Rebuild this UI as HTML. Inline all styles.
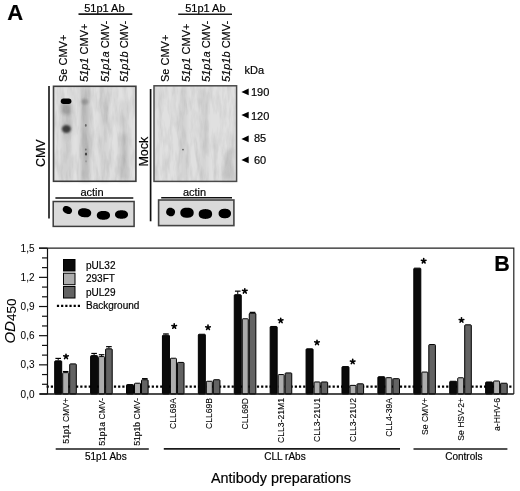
<!DOCTYPE html>
<html><head><meta charset="utf-8"><style>
html,body{margin:0;padding:0;background:#fff;}
body{width:520px;height:491px;position:relative;overflow:hidden;font-family:"Liberation Sans", sans-serif;}
text{stroke:#000;stroke-width:0.18px;paint-order:stroke;}
</style></head><body>
<svg width="520" height="491" viewBox="0 0 520 491" style="position:absolute;left:0;top:0;filter:blur(0.35px)" font-family='"Liberation Sans", sans-serif'><defs><filter id="b1" x="-50%" y="-50%" width="200%" height="200%"><feGaussianBlur stdDeviation="1.2"/></filter><filter id="b2" x="-50%" y="-50%" width="200%" height="200%"><feGaussianBlur stdDeviation="2"/></filter><filter id="b06" x="-50%" y="-50%" width="200%" height="200%"><feGaussianBlur stdDeviation="0.6"/></filter><filter id="nz" x="0" y="0" width="100%" height="100%"><feTurbulence type="fractalNoise" baseFrequency="0.22 0.045" numOctaves="3" seed="7"/><feColorMatrix type="matrix" values="0 0 0 0 0  0 0 0 0 0  0 0 0 0 0  0.8 0 0 0 -0.3"/><feGaussianBlur stdDeviation="0.7"/></filter></defs><rect width="520" height="491" fill="#fff"/><line x1="46.6" y1="386.7" x2="513" y2="386.7" stroke="#000" stroke-width="2.2" stroke-dasharray="2.2 2.006"/><line x1="58.20" y1="358.42" x2="58.20" y2="360.37" stroke="#000" stroke-width="1"/><line x1="55.40" y1="358.42" x2="61.00" y2="358.42" stroke="#000" stroke-width="1.2"/><rect x="54.70" y="360.87" width="7.00" height="33.13" fill="#0a0a0a" stroke="#000" stroke-width="1" rx="0.8"/><line x1="65.70" y1="371.55" x2="65.70" y2="372.13" stroke="#000" stroke-width="1"/><line x1="62.90" y1="371.55" x2="68.50" y2="371.55" stroke="#000" stroke-width="1.2"/><rect x="62.70" y="372.63" width="6.00" height="21.37" fill="#adadad" stroke="#000" stroke-width="1" rx="0.8"/><rect x="69.70" y="363.88" width="6.60" height="30.12" fill="#636363" stroke="#000" stroke-width="1" rx="0.8"/><path d="M66.00 356.60L66.00 354.20M66.00 356.60L68.28 355.86M66.00 356.60L67.41 358.54M66.00 356.60L64.59 358.54M66.00 356.60L63.72 355.86" stroke="#000" stroke-width="1.6" stroke-linecap="round" fill="none"/><text transform="translate(68.6,398) rotate(-90)" font-size="8.6" text-anchor="end" style="stroke-width:0.1px">51p1 CMV+</text><line x1="94.11" y1="353.47" x2="94.11" y2="355.12" stroke="#000" stroke-width="1"/><line x1="91.31" y1="353.47" x2="96.91" y2="353.47" stroke="#000" stroke-width="1.2"/><rect x="90.61" y="355.62" width="7.00" height="38.38" fill="#0a0a0a" stroke="#000" stroke-width="1" rx="0.8"/><line x1="101.61" y1="354.73" x2="101.61" y2="356.09" stroke="#000" stroke-width="1"/><line x1="98.81" y1="354.73" x2="104.41" y2="354.73" stroke="#000" stroke-width="1.2"/><rect x="98.61" y="356.59" width="6.00" height="37.41" fill="#adadad" stroke="#000" stroke-width="1" rx="0.8"/><line x1="108.91" y1="346.66" x2="108.91" y2="348.32" stroke="#000" stroke-width="1"/><line x1="106.11" y1="346.66" x2="111.71" y2="346.66" stroke="#000" stroke-width="1.2"/><rect x="105.61" y="348.82" width="6.60" height="45.18" fill="#636363" stroke="#000" stroke-width="1" rx="0.8"/><text transform="translate(104.5,398) rotate(-90)" font-size="8.6" text-anchor="end" style="stroke-width:0.1px">51p1a CMV-</text><rect x="126.52" y="384.59" width="7.00" height="9.41" fill="#0a0a0a" stroke="#000" stroke-width="1" rx="0.8"/><rect x="134.52" y="383.22" width="6.00" height="10.78" fill="#adadad" stroke="#000" stroke-width="1" rx="0.8"/><line x1="144.82" y1="378.64" x2="144.82" y2="379.23" stroke="#000" stroke-width="1"/><line x1="142.02" y1="378.64" x2="147.62" y2="378.64" stroke="#000" stroke-width="1.2"/><rect x="141.52" y="379.73" width="6.60" height="14.27" fill="#636363" stroke="#000" stroke-width="1" rx="0.8"/><text transform="translate(140.4,398) rotate(-90)" font-size="8.6" text-anchor="end" style="stroke-width:0.1px">51p1b CMV-</text><line x1="165.93" y1="333.93" x2="165.93" y2="334.71" stroke="#000" stroke-width="1"/><line x1="163.13" y1="333.93" x2="168.73" y2="333.93" stroke="#000" stroke-width="1.2"/><rect x="162.43" y="335.21" width="7.00" height="58.79" fill="#0a0a0a" stroke="#000" stroke-width="1" rx="0.8"/><rect x="170.43" y="358.24" width="6.00" height="35.76" fill="#adadad" stroke="#000" stroke-width="1" rx="0.8"/><rect x="177.43" y="362.42" width="6.60" height="31.58" fill="#636363" stroke="#000" stroke-width="1" rx="0.8"/><path d="M174.20 326.30L174.20 323.90M174.20 326.30L176.48 325.56M174.20 326.30L175.61 328.24M174.20 326.30L172.79 328.24M174.20 326.30L171.92 325.56" stroke="#000" stroke-width="1.6" stroke-linecap="round" fill="none"/><text transform="translate(176.3,398) rotate(-90)" font-size="8.6" text-anchor="end" style="stroke-width:0.1px">CLL69A</text><rect x="198.34" y="334.24" width="7.00" height="59.76" fill="#0a0a0a" stroke="#000" stroke-width="1" rx="0.8"/><rect x="206.34" y="381.28" width="6.00" height="12.72" fill="#adadad" stroke="#000" stroke-width="1" rx="0.8"/><rect x="213.34" y="379.73" width="6.60" height="14.27" fill="#636363" stroke="#000" stroke-width="1" rx="0.8"/><path d="M208.00 327.50L208.00 325.10M208.00 327.50L210.28 326.76M208.00 327.50L209.41 329.44M208.00 327.50L206.59 329.44M208.00 327.50L205.72 326.76" stroke="#000" stroke-width="1.6" stroke-linecap="round" fill="none"/><text transform="translate(212.2,398) rotate(-90)" font-size="8.6" text-anchor="end" style="stroke-width:0.1px">CLL69B</text><line x1="237.75" y1="291.16" x2="237.75" y2="294.18" stroke="#000" stroke-width="1"/><line x1="234.95" y1="291.16" x2="240.55" y2="291.16" stroke="#000" stroke-width="1.2"/><rect x="234.25" y="294.68" width="7.00" height="99.32" fill="#0a0a0a" stroke="#000" stroke-width="1" rx="0.8"/><rect x="242.25" y="318.78" width="6.00" height="75.22" fill="#adadad" stroke="#000" stroke-width="1" rx="0.8"/><line x1="252.55" y1="312.35" x2="252.55" y2="312.74" stroke="#000" stroke-width="1"/><line x1="249.75" y1="312.35" x2="255.35" y2="312.35" stroke="#000" stroke-width="1.2"/><rect x="249.25" y="313.24" width="6.60" height="80.76" fill="#636363" stroke="#000" stroke-width="1" rx="0.8"/><path d="M244.80 291.10L244.80 288.70M244.80 291.10L247.08 290.36M244.80 291.10L246.21 293.04M244.80 291.10L243.39 293.04M244.80 291.10L242.52 290.36" stroke="#000" stroke-width="1.6" stroke-linecap="round" fill="none"/><text transform="translate(248.1,398) rotate(-90)" font-size="8.6" text-anchor="end" style="stroke-width:0.1px">CLL69D</text><rect x="270.16" y="326.46" width="7.00" height="67.54" fill="#0a0a0a" stroke="#000" stroke-width="1" rx="0.8"/><rect x="278.16" y="374.57" width="6.00" height="19.43" fill="#adadad" stroke="#000" stroke-width="1" rx="0.8"/><rect x="285.16" y="372.92" width="6.60" height="21.08" fill="#636363" stroke="#000" stroke-width="1" rx="0.8"/><path d="M280.70 320.60L280.70 318.20M280.70 320.60L282.98 319.86M280.70 320.60L282.11 322.54M280.70 320.60L279.29 322.54M280.70 320.60L278.42 319.86" stroke="#000" stroke-width="1.6" stroke-linecap="round" fill="none"/><text transform="translate(284.1,398) rotate(-90)" font-size="8.6" text-anchor="end" style="stroke-width:0.1px">CLL3-21M1</text><rect x="306.07" y="348.82" width="7.00" height="45.18" fill="#0a0a0a" stroke="#000" stroke-width="1" rx="0.8"/><rect x="314.07" y="381.96" width="6.00" height="12.04" fill="#adadad" stroke="#000" stroke-width="1" rx="0.8"/><rect x="321.07" y="381.96" width="6.60" height="12.04" fill="#636363" stroke="#000" stroke-width="1" rx="0.8"/><path d="M317.00 342.60L317.00 340.20M317.00 342.60L319.28 341.86M317.00 342.60L318.41 344.54M317.00 342.60L315.59 344.54M317.00 342.60L314.72 341.86" stroke="#000" stroke-width="1.6" stroke-linecap="round" fill="none"/><text transform="translate(320.0,398) rotate(-90)" font-size="8.6" text-anchor="end" style="stroke-width:0.1px">CLL3-21U1</text><rect x="341.98" y="366.60" width="7.00" height="27.40" fill="#0a0a0a" stroke="#000" stroke-width="1" rx="0.8"/><rect x="349.98" y="385.36" width="6.00" height="8.64" fill="#adadad" stroke="#000" stroke-width="1" rx="0.8"/><rect x="356.98" y="383.81" width="6.60" height="10.19" fill="#636363" stroke="#000" stroke-width="1" rx="0.8"/><path d="M352.70 361.70L352.70 359.30M352.70 361.70L354.98 360.96M352.70 361.70L354.11 363.64M352.70 361.70L351.29 363.64M352.70 361.70L350.42 360.96" stroke="#000" stroke-width="1.6" stroke-linecap="round" fill="none"/><text transform="translate(355.9,398) rotate(-90)" font-size="8.6" text-anchor="end" style="stroke-width:0.1px">CLL3-21U2</text><rect x="377.89" y="376.71" width="7.00" height="17.29" fill="#0a0a0a" stroke="#000" stroke-width="1" rx="0.8"/><rect x="385.89" y="377.68" width="6.00" height="16.32" fill="#adadad" stroke="#000" stroke-width="1" rx="0.8"/><rect x="392.89" y="378.66" width="6.60" height="15.34" fill="#636363" stroke="#000" stroke-width="1" rx="0.8"/><text transform="translate(391.8,398) rotate(-90)" font-size="8.6" text-anchor="end" style="stroke-width:0.1px">CLL4-39A</text><rect x="413.80" y="268.14" width="7.00" height="125.86" fill="#0a0a0a" stroke="#000" stroke-width="1" rx="0.8"/><rect x="421.80" y="372.05" width="6.00" height="21.95" fill="#adadad" stroke="#000" stroke-width="1" rx="0.8"/><rect x="428.80" y="344.54" width="6.60" height="49.46" fill="#636363" stroke="#000" stroke-width="1" rx="0.8"/><path d="M423.70 261.00L423.70 258.60M423.70 261.00L425.98 260.26M423.70 261.00L425.11 262.94M423.70 261.00L422.29 262.94M423.70 261.00L421.42 260.26" stroke="#000" stroke-width="1.6" stroke-linecap="round" fill="none"/><text transform="translate(427.7,398) rotate(-90)" font-size="8.6" text-anchor="end" style="stroke-width:0.1px">Se CMV+</text><rect x="449.71" y="381.28" width="7.00" height="12.72" fill="#0a0a0a" stroke="#000" stroke-width="1" rx="0.8"/><rect x="457.71" y="377.78" width="6.00" height="16.22" fill="#adadad" stroke="#000" stroke-width="1" rx="0.8"/><rect x="464.71" y="324.81" width="6.60" height="69.19" fill="#636363" stroke="#000" stroke-width="1" rx="0.8"/><path d="M461.50 320.20L461.50 317.80M461.50 320.20L463.78 319.46M461.50 320.20L462.91 322.14M461.50 320.20L460.09 322.14M461.50 320.20L459.22 319.46" stroke="#000" stroke-width="1.6" stroke-linecap="round" fill="none"/><text transform="translate(463.6,398) rotate(-90)" font-size="8.6" text-anchor="end" style="stroke-width:0.1px">Se HSV-2+</text><rect x="485.62" y="381.96" width="7.00" height="12.04" fill="#0a0a0a" stroke="#000" stroke-width="1" rx="0.8"/><rect x="493.62" y="380.99" width="6.00" height="13.01" fill="#adadad" stroke="#000" stroke-width="1" rx="0.8"/><rect x="500.62" y="383.22" width="6.60" height="10.78" fill="#636363" stroke="#000" stroke-width="1" rx="0.8"/><text transform="translate(499.5,398) rotate(-90)" font-size="8.6" text-anchor="end" style="stroke-width:0.1px">a-HHV-6</text><path d="M47.5 394 V248" stroke="#111" stroke-width="1.2" fill="none"/><path d="M39 248.2 H513.8 V394" stroke="#222" stroke-width="1.2" fill="none"/><path d="M40 394 H513.8" stroke="#111" stroke-width="1.4" fill="none"/><line x1="39" y1="394.00" x2="47.5" y2="394.00" stroke="#111" stroke-width="1.2"/><text x="34.5" y="397.60" font-size="10" text-anchor="end" style="stroke-width:0.05px">0,0</text><line x1="42" y1="384.28" x2="47.5" y2="384.28" stroke="#111" stroke-width="1.2"/><line x1="42" y1="374.56" x2="47.5" y2="374.56" stroke="#111" stroke-width="1.2"/><line x1="39" y1="364.84" x2="47.5" y2="364.84" stroke="#111" stroke-width="1.2"/><text x="34.5" y="368.44" font-size="10" text-anchor="end" style="stroke-width:0.05px">0,3</text><line x1="42" y1="355.12" x2="47.5" y2="355.12" stroke="#111" stroke-width="1.2"/><line x1="42" y1="345.40" x2="47.5" y2="345.40" stroke="#111" stroke-width="1.2"/><line x1="39" y1="335.68" x2="47.5" y2="335.68" stroke="#111" stroke-width="1.2"/><text x="34.5" y="339.28" font-size="10" text-anchor="end" style="stroke-width:0.05px">0,6</text><line x1="42" y1="325.96" x2="47.5" y2="325.96" stroke="#111" stroke-width="1.2"/><line x1="42" y1="316.24" x2="47.5" y2="316.24" stroke="#111" stroke-width="1.2"/><line x1="39" y1="306.52" x2="47.5" y2="306.52" stroke="#111" stroke-width="1.2"/><text x="34.5" y="310.12" font-size="10" text-anchor="end" style="stroke-width:0.05px">0,9</text><line x1="42" y1="296.80" x2="47.5" y2="296.80" stroke="#111" stroke-width="1.2"/><line x1="42" y1="287.08" x2="47.5" y2="287.08" stroke="#111" stroke-width="1.2"/><line x1="39" y1="277.36" x2="47.5" y2="277.36" stroke="#111" stroke-width="1.2"/><text x="34.5" y="280.96" font-size="10" text-anchor="end" style="stroke-width:0.05px">1,2</text><line x1="42" y1="267.64" x2="47.5" y2="267.64" stroke="#111" stroke-width="1.2"/><line x1="42" y1="257.92" x2="47.5" y2="257.92" stroke="#111" stroke-width="1.2"/><line x1="39" y1="248.20" x2="47.5" y2="248.20" stroke="#111" stroke-width="1.2"/><text x="34.5" y="251.80" font-size="10" text-anchor="end" style="stroke-width:0.05px">1,5</text><text transform="translate(14.5,343.6) rotate(-90)" font-size="15" style="stroke-width:0.08px"><tspan font-style="italic">OD</tspan><tspan dy="1.9" font-size="13.5">450</tspan></text><rect x="63.5" y="259.5" width="11.5" height="11.5" fill="#0a0a0a" stroke="#000" stroke-width="1"/><rect x="63.5" y="273.2" width="11.5" height="11.5" fill="#adadad" stroke="#000" stroke-width="1"/><rect x="63.5" y="286.5" width="11.5" height="11.5" fill="#636363" stroke="#000" stroke-width="1"/><text x="86" y="269.2" font-size="10">pUL32</text><text x="86" y="282.1" font-size="10">293FT</text><text x="86" y="295.6" font-size="10">pUL29</text><text x="86" y="309" font-size="10">Background</text><line x1="56.9" y1="305.8" x2="80.2" y2="305.8" stroke="#000" stroke-width="2.2" stroke-dasharray="2.2 1.98"/><text x="494.2" y="270.7" font-size="21.5" font-weight="bold">B</text><line x1="55.7" y1="449" x2="148.8" y2="449" stroke="#1a1a1a" stroke-width="1.7"/><line x1="163.8" y1="448.8" x2="400" y2="448.8" stroke="#1a1a1a" stroke-width="1.7"/><line x1="413.5" y1="449" x2="507.4" y2="449" stroke="#1a1a1a" stroke-width="1.7"/><text x="105.8" y="460" font-size="10" text-anchor="middle">51p1 Abs</text><text x="285" y="459.7" font-size="10" text-anchor="middle">CLL rAbs</text><text x="463.8" y="460" font-size="10" text-anchor="middle">Controls</text><text x="281" y="483.4" font-size="14.4" text-anchor="middle">Antibody preparations</text><text x="7.3" y="19.9" font-size="22" font-weight="bold">A</text><text x="104.4" y="12" font-size="11" text-anchor="middle">51p1 Ab</text><line x1="78.5" y1="14.1" x2="132.3" y2="14.1" stroke="#1a1a1a" stroke-width="1.6"/><text x="205.4" y="11.7" font-size="11" text-anchor="middle">51p1 Ab</text><line x1="178.2" y1="14.2" x2="232" y2="14.2" stroke="#1a1a1a" stroke-width="1.6"/><text transform="translate(67.3,82) rotate(-90)" font-size="11">Se CMV+</text><text transform="translate(88.1,82) rotate(-90)" font-size="11"><tspan font-style="italic">51p1</tspan> CMV+</text><text transform="translate(108.8,82) rotate(-90)" font-size="11"><tspan font-style="italic">51p1a</tspan> CMV-</text><text transform="translate(128.1,82) rotate(-90)" font-size="11"><tspan font-style="italic">51p1b</tspan> CMV-</text><text transform="translate(169.2,82) rotate(-90)" font-size="11">Se CMV+</text><text transform="translate(190.1,82) rotate(-90)" font-size="11"><tspan font-style="italic">51p1</tspan> CMV+</text><text transform="translate(210.1,82) rotate(-90)" font-size="11"><tspan font-style="italic">51p1a</tspan> CMV-</text><text transform="translate(230.4,82) rotate(-90)" font-size="11"><tspan font-style="italic">51p1b</tspan> CMV-</text><rect x="53.5" y="86.3" width="82.4" height="95" fill="#e1e1e1"/><g filter="url(#b2)"><rect x="80.5" y="87" width="9.5" height="94" fill="#c4c4c4"/><rect x="83" y="95" width="5" height="80" fill="#b9b9b9"/><rect x="61.5" y="104" width="9.5" height="76" fill="#d0d0d0"/><rect x="100" y="87" width="9" height="94" fill="#d4d4d4"/><rect x="101" y="100" width="7" height="25" fill="#cccccc"/><rect x="119.5" y="100" width="9" height="80" fill="#d4d4d4"/><rect x="119.5" y="135" width="9" height="45" fill="#c6c6c6"/><rect x="121" y="158" width="7" height="22" fill="#c2c2c2"/><rect x="62" y="103" width="9" height="12" fill="#9c9c9c"/><rect x="63" y="118" width="6.5" height="22" fill="#c2c2c2"/><ellipse cx="105.6" cy="109" rx="3" ry="3" fill="#c8c8c8"/><ellipse cx="86" cy="154" rx="3" ry="8" fill="#b2b2b2"/></g><g filter="url(#b1)"><ellipse cx="66.4" cy="129" rx="4.5" ry="4" fill="#3c3c3c"/><ellipse cx="85" cy="101.8" rx="3.4" ry="2.8" fill="#999"/><ellipse cx="66" cy="110" rx="3.2" ry="2.2" fill="#a0a0a0"/></g><g filter="url(#b06)"><rect x="60.8" y="98.6" width="10.6" height="5.4" rx="2.7" fill="#000"/><ellipse cx="85.8" cy="125.4" rx="0.9" ry="1.3" fill="#666"/><ellipse cx="85.8" cy="149.6" rx="0.9" ry="1.1" fill="#777"/><ellipse cx="86" cy="154" rx="1.1" ry="1.6" fill="#444"/><ellipse cx="86" cy="161.3" rx="0.9" ry="1.1" fill="#999"/></g><rect x="54" y="87" width="81.4" height="94" fill="#000" filter="url(#nz)" opacity="0.22"/><rect x="53.5" y="86.3" width="82.4" height="95" fill="none" stroke="#3c3c3c" stroke-width="1.6"/><rect x="154" y="85.8" width="82.6" height="95.6" fill="#e0e0e0"/><g filter="url(#b2)"><path d="M226 150 L233 148 L234 180 L222 180 Z" fill="#c6c6c6"/><rect x="180" y="88" width="7" height="92" fill="#d2d2d2"/><rect x="200" y="88" width="7" height="92" fill="#d3d3d3"/></g><g filter="url(#b06)"><circle cx="183" cy="149.6" r="0.9" fill="#666"/></g><rect x="154.5" y="86.5" width="81.6" height="94.6" fill="#000" filter="url(#nz)" opacity="0.22"/><rect x="154" y="85.8" width="82.6" height="95.6" fill="none" stroke="#4a4a4a" stroke-width="1.5"/><line x1="49" y1="86" x2="49" y2="218.5" stroke="#111" stroke-width="1.6"/><line x1="150.6" y1="89" x2="150.6" y2="221.3" stroke="#111" stroke-width="1.7"/><text transform="translate(44.6,167.1) rotate(-90)" font-size="12.5">CMV</text><text transform="translate(147.5,166.6) rotate(-90)" font-size="12.5">Mock</text><text x="92" y="196.3" font-size="11" text-anchor="middle">actin</text><line x1="55.4" y1="198" x2="133.3" y2="198" stroke="#111" stroke-width="1.5"/><text x="194.5" y="196" font-size="11" text-anchor="middle">actin</text><line x1="161.2" y1="197.8" x2="232" y2="197.8" stroke="#111" stroke-width="1.5"/><rect x="53.2" y="201.5" width="80.9" height="24.9" fill="#dadada" stroke="#3c3c3c" stroke-width="1.5"/><rect x="158.6" y="200" width="75.3" height="25.6" fill="#dadada" stroke="#444" stroke-width="1.6"/><g filter="url(#b06)"><path d="M71.64 212.25L71.32 212.78L70.99 213.17L70.62 213.48L70.21 213.73L69.77 213.91L69.29 214.02L68.77 214.06L68.23 214.04L67.66 213.94L67.07 213.78L66.44 213.54L65.71 213.18L65.00 212.77L64.45 212.39L63.98 211.99L63.59 211.57L63.27 211.14L63.01 210.68L62.84 210.22L62.74 209.75L62.71 209.28L62.77 208.79L62.91 208.30L63.16 207.75L63.48 207.22L63.81 206.83L64.18 206.52L64.59 206.27L65.03 206.09L65.51 205.98L66.03 205.94L66.57 205.96L67.14 206.06L67.73 206.22L68.36 206.46L69.09 206.82L69.80 207.23L70.35 207.61L70.82 208.01L71.21 208.43L71.53 208.86L71.79 209.32L71.96 209.78L72.06 210.25L72.09 210.72L72.03 211.21L71.89 211.70Z" fill="#000"/><path d="M91.16 213.49L91.03 214.25L90.82 214.85L90.52 215.39L90.13 215.86L89.66 216.27L89.11 216.62L88.48 216.91L87.78 217.13L87.01 217.28L86.17 217.36L85.25 217.36L84.13 217.28L83.02 217.12L82.12 216.93L81.31 216.68L80.59 216.37L79.95 216.01L79.40 215.60L78.93 215.14L78.55 214.64L78.27 214.10L78.09 213.51L78.00 212.88L78.04 212.11L78.17 211.35L78.38 210.75L78.68 210.21L79.07 209.74L79.54 209.33L80.09 208.98L80.72 208.69L81.42 208.47L82.19 208.32L83.03 208.24L83.95 208.24L85.07 208.32L86.18 208.48L87.08 208.67L87.89 208.92L88.61 209.23L89.25 209.59L89.80 210.00L90.27 210.46L90.65 210.96L90.93 211.50L91.11 212.09L91.20 212.72Z" fill="#000"/><path d="M110.00 215.30L109.95 216.05L109.80 216.66L109.56 217.21L109.22 217.71L108.80 218.16L108.28 218.56L107.69 218.90L107.01 219.18L106.26 219.41L105.44 219.57L104.52 219.67L103.40 219.70L102.28 219.67L101.36 219.57L100.54 219.41L99.79 219.18L99.11 218.90L98.52 218.56L98.00 218.16L97.58 217.71L97.24 217.21L97.00 216.66L96.85 216.05L96.80 215.30L96.85 214.55L97.00 213.94L97.24 213.39L97.58 212.89L98.00 212.44L98.52 212.04L99.11 211.70L99.79 211.42L100.54 211.19L101.36 211.03L102.28 210.93L103.40 210.90L104.52 210.93L105.44 211.03L106.26 211.19L107.01 211.42L107.69 211.70L108.28 212.04L108.80 212.44L109.22 212.89L109.56 213.39L109.80 213.94L109.95 214.55Z" fill="#000"/><path d="M128.00 214.50L127.95 215.21L127.81 215.80L127.57 216.32L127.24 216.80L126.81 217.23L126.31 217.61L125.72 217.93L125.06 218.21L124.32 218.42L123.51 218.58L122.61 218.67L121.50 218.70L120.39 218.67L119.49 218.58L118.68 218.42L117.94 218.21L117.28 217.93L116.69 217.61L116.19 217.23L115.76 216.80L115.43 216.32L115.19 215.80L115.05 215.21L115.00 214.50L115.05 213.79L115.19 213.20L115.43 212.68L115.76 212.20L116.19 211.77L116.69 211.39L117.28 211.07L117.94 210.79L118.68 210.58L119.49 210.42L120.39 210.33L121.50 210.30L122.61 210.33L123.51 210.42L124.32 210.58L125.06 210.79L125.72 211.07L126.31 211.39L126.81 211.77L127.24 212.20L127.57 212.68L127.81 213.20L127.95 213.79Z" fill="#000"/><path d="M174.73 213.50L174.46 214.16L174.17 214.66L173.84 215.10L173.47 215.46L173.06 215.76L172.61 216.00L172.12 216.17L171.61 216.26L171.07 216.29L170.50 216.25L169.90 216.13L169.18 215.90L168.49 215.61L167.95 215.32L167.48 214.99L167.08 214.62L166.75 214.21L166.49 213.77L166.30 213.30L166.17 212.81L166.12 212.29L166.15 211.74L166.25 211.17L166.47 210.50L166.74 209.84L167.03 209.34L167.36 208.90L167.73 208.54L168.14 208.24L168.59 208.00L169.08 207.83L169.59 207.74L170.13 207.71L170.70 207.75L171.30 207.87L172.02 208.10L172.71 208.39L173.25 208.68L173.72 209.01L174.12 209.38L174.45 209.79L174.71 210.23L174.90 210.70L175.03 211.19L175.08 211.71L175.05 212.26L174.95 212.83Z" fill="#000"/><path d="M193.70 212.70L193.65 213.56L193.50 214.26L193.25 214.89L192.91 215.46L192.48 215.98L191.96 216.44L191.35 216.83L190.67 217.16L189.91 217.41L189.07 217.60L188.14 217.71L187.00 217.75L185.86 217.71L184.93 217.60L184.09 217.41L183.33 217.16L182.65 216.83L182.04 216.44L181.52 215.98L181.09 215.46L180.75 214.89L180.50 214.26L180.35 213.56L180.30 212.70L180.35 211.84L180.50 211.14L180.75 210.51L181.09 209.94L181.52 209.42L182.04 208.96L182.65 208.57L183.33 208.24L184.09 207.99L184.93 207.80L185.86 207.69L187.00 207.65L188.14 207.69L189.07 207.80L189.91 207.99L190.67 208.24L191.35 208.57L191.96 208.96L192.48 209.42L192.91 209.94L193.25 210.51L193.50 211.14L193.65 211.84Z" fill="#000"/><path d="M212.10 214.00L212.05 214.83L211.90 215.51L211.65 216.13L211.31 216.68L210.88 217.18L210.36 217.63L209.75 218.01L209.07 218.32L208.31 218.57L207.47 218.75L206.54 218.86L205.40 218.90L204.26 218.86L203.33 218.75L202.49 218.57L201.73 218.32L201.05 218.01L200.44 217.63L199.92 217.18L199.49 216.68L199.15 216.13L198.90 215.51L198.75 214.83L198.70 214.00L198.75 213.17L198.90 212.49L199.15 211.87L199.49 211.32L199.92 210.82L200.44 210.37L201.05 209.99L201.73 209.68L202.49 209.43L203.33 209.25L204.26 209.14L205.40 209.10L206.54 209.14L207.47 209.25L208.31 209.43L209.07 209.68L209.75 209.99L210.36 210.37L210.88 210.82L211.31 211.32L211.65 211.87L211.90 212.49L212.05 213.17Z" fill="#000"/><path d="M231.00 213.50L230.95 214.30L230.82 214.95L230.59 215.54L230.27 216.07L229.87 216.55L229.39 216.98L228.83 217.34L228.19 217.65L227.49 217.89L226.71 218.06L225.86 218.17L224.80 218.20L223.74 218.17L222.89 218.06L222.11 217.89L221.41 217.65L220.77 217.34L220.21 216.98L219.73 216.55L219.33 216.07L219.01 215.54L218.78 214.95L218.65 214.30L218.60 213.50L218.65 212.70L218.78 212.05L219.01 211.46L219.33 210.93L219.73 210.45L220.21 210.02L220.77 209.66L221.41 209.35L222.11 209.11L222.89 208.94L223.74 208.83L224.80 208.80L225.86 208.83L226.71 208.94L227.49 209.11L228.19 209.35L228.83 209.66L229.39 210.02L229.87 210.45L230.27 210.93L230.59 211.46L230.82 212.05L230.95 212.70Z" fill="#000"/></g><text x="244.5" y="74" font-size="11">kDa</text><path d="M241.4 91.9 L248.7 88.5 L248.7 95.3 Z" fill="#000"/><text x="250.9" y="96.1" font-size="11">190</text><path d="M241.4 115.1 L248.7 111.7 L248.7 118.5 Z" fill="#000"/><text x="250.9" y="120.4" font-size="11">120</text><path d="M241.4 138.9 L248.7 135.5 L248.7 142.3 Z" fill="#000"/><text x="254.0" y="142.4" font-size="11">85</text><path d="M241.4 159.9 L248.7 156.5 L248.7 163.3 Z" fill="#000"/><text x="254.0" y="163.6" font-size="11">60</text></svg>
</body></html>
